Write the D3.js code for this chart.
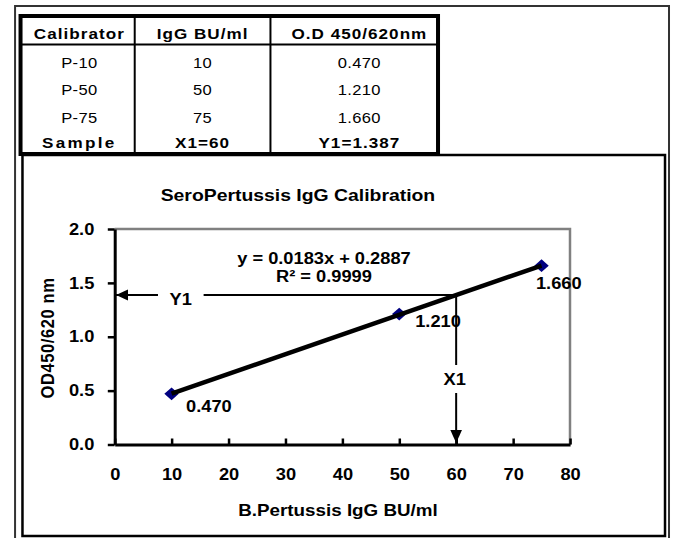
<!DOCTYPE html>
<html>
<head>
<meta charset="utf-8">
<script src="https://cdn.jsdelivr.net/npm/d3@7"></script>
<style>
  html, body { margin: 0; padding: 0; background: #fff; }
  svg { display: block; font-family: "Liberation Sans", Arial, sans-serif; }
  svg line, svg path, svg rect { vector-effect: non-scaling-stroke; }
</style>
</head>
<body>
<svg id="chart"></svg>
<script>
// calibration data
const tableHeaders = ['Calibrator', 'IgG BU/ml', 'O.D 450/620nm'];
const calibrators = ['P-10', 'P-50', 'P-75'];
const concentrations = [10, 50, 75];
const odValues = [0.470, 1.210, 1.660];
const sampleName = 'Sample';
const sampleX = 60;
const sampleY = 1.387;
const slope = 0.0183;
const intercept = 0.2887;
const rSquared = 0.9999;
const xTicks = [0, 10, 20, 30, 40, 50, 60, 70, 80];
const yTicks = [0, 0.5, 1.0, 1.5, 2.0];

// label nudges (viewBox units), one per point
const labelOffsets = [[12.7, 18], [14, 13], [-4.9, 23]];

// the picture is drawn in a narrower box and stretched to 673px wide
const W = 590, H = 538;
const svg = d3.select('#chart')
  .attr('width', 673)
  .attr('height', 538)
  .attr('viewBox', `0 0 ${W} ${H}`)
  .attr('preserveAspectRatio', 'none');

// outer frame
svg.append('rect')
  .attr('x', 13.2).attr('y', 6)
  .attr('width', 573.3).attr('height', 540)
  .attr('fill', 'none').attr('stroke', '#333').attr('stroke-width', 2);

// chart box
svg.append('rect')
  .attr('x', 19.7).attr('y', 155)
  .attr('width', 563.3).attr('height', 381)
  .attr('fill', '#fff').attr('stroke', '#000').attr('stroke-width', 2.5);

// table
const tbl = { left: 18, right: 384, top: 16, bottom: 154, head: 44.5 };
const colEdges = [tbl.left, 118.1, 237.1, tbl.right];
const colShift = [1.5, 0, 4.5];
const rowBase = [39.3, 67.7, 95, 122.7, 148.3];
const t = svg.append('g');
t.append('rect')
  .attr('x', tbl.left).attr('y', tbl.top)
  .attr('width', tbl.right - tbl.left).attr('height', tbl.bottom - tbl.top)
  .attr('fill', '#fff').attr('stroke', '#000').attr('stroke-width', 4);
t.append('line')
  .attr('x1', tbl.left).attr('x2', tbl.right)
  .attr('y1', tbl.head).attr('y2', tbl.head)
  .attr('stroke', '#000').attr('stroke-width', 2);
t.selectAll('.div').data(colEdges.slice(1, 3)).enter().append('line')
  .attr('x1', d => d).attr('x2', d => d)
  .attr('y1', tbl.top).attr('y2', tbl.bottom)
  .attr('stroke', '#000').attr('stroke-width', 2);

const colMid = i => (colEdges[i] + colEdges[i + 1]) / 2 + colShift[i];
const rows = [tableHeaders]
  .concat(calibrators.map((c, i) => [c, String(concentrations[i]), odValues[i].toFixed(3)]))
  .concat([[sampleName, `X1=${sampleX}`, `Y1=${sampleY.toFixed(3)}`]]);

rows.forEach((r, ri) => {
  const bold = ri === 0 || ri === rows.length - 1;
  r.forEach((txt, ci) => {
    t.append('text')
      .attr('x', colMid(ci)).attr('y', rowBase[ri])
      .attr('text-anchor', 'middle')
      .attr('font-size', bold ? 15 : 14.5)
      .attr('font-weight', bold ? 'bold' : 'normal')
      .attr('letter-spacing', bold ? (ri > 0 && ci === 0 ? 2 : 0.9) : 0.3)
      .text(txt);
  });
});

// chart
const x = d3.scaleLinear().domain([0, 80]).range([100.5, 499.7]);
const y = d3.scaleLinear().domain([0, 2]).range([444.5, 229]);

svg.append('text')
  .attr('x', 261.2).attr('y', 201)
  .attr('text-anchor', 'middle')
  .attr('font-size', 17).attr('font-weight', 'bold')
  .text('SeroPertussis IgG Calibration');

// plot border (gray top and right)
svg.append('path')
  .attr('d', `M${x(0)},${y(2)}H${x(80)}V${y(0)}`)
  .attr('fill', 'none').attr('stroke', '#808080').attr('stroke-width', 2.5);

// axes
const xAxis = svg.append('g')
  .attr('transform', `translate(0,${y(0)})`)
  .call(d3.axisBottom(x).tickValues(xTicks).tickFormat(d3.format('d'))
    .tickSizeInner(-6).tickSizeOuter(0).tickPadding(24));
const yAxis = svg.append('g')
  .attr('transform', `translate(${x(0)},0)`)
  .call(d3.axisLeft(y).tickValues(yTicks).tickFormat(d3.format('.1f'))
    .tickSizeInner(6).tickSizeOuter(0).tickPadding(11.8));

[xAxis, yAxis].forEach(a => {
  a.attr('font-family', null).attr('font-size', null);
  a.select('.domain').attr('stroke', '#000').attr('stroke-width', 3);
  a.selectAll('.tick line').attr('stroke', '#000').attr('stroke-width', 2.5);
  a.selectAll('.tick text').attr('fill', '#000')
    .attr('font-size', 16).attr('font-weight', 'bold');
});

svg.append('text')
  .attr('x', 296.3).attr('y', 516)
  .attr('text-anchor', 'middle')
  .attr('font-size', 16.5).attr('font-weight', 'bold')
  .text('B.Pertussis IgG BU/ml');

svg.append('text')
  .attr('transform', 'translate(47.3,338) rotate(-90)')
  .attr('text-anchor', 'middle')
  .attr('font-size', 16.5).attr('font-weight', 'bold')
  .attr('letter-spacing', 0.6)
  .text('OD450/620 nm');

// sample read-off lines
const ry = y(sampleY), rx = x(sampleX);
svg.append('path')
  .attr('d', `M${x(0)},${ry}H${rx}V${y(0)}`)
  .attr('fill', 'none').attr('stroke', '#000').attr('stroke-width', 2);
svg.append('path')
  .attr('d', `M${x(0) + 1.2},${ry}l10.5,-5.5v11z`)
  .attr('fill', '#000');
svg.append('path')
  .attr('d', `M${rx},${y(0) - 1.5}l-5.1,-13h10.2z`)
  .attr('fill', '#000');

// gaps for Y1 / X1
svg.append('rect')
  .attr('x', x(0) + 38).attr('y', ry - 4)
  .attr('width', 40).attr('height', 8).attr('fill', '#fff');
svg.append('text')
  .attr('x', x(0) + 58).attr('y', ry + 10)
  .attr('text-anchor', 'middle')
  .attr('font-size', 16).attr('font-weight', 'bold')
  .text('Y1');
svg.append('rect')
  .attr('x', rx - 4).attr('y', y(0) - 79.5)
  .attr('width', 8).attr('height', 28).attr('fill', '#fff');
svg.append('text')
  .attr('x', rx - 1.3).attr('y', y(0) - 59)
  .attr('text-anchor', 'middle')
  .attr('font-size', 16).attr('font-weight', 'bold')
  .text('X1');

// points
const pts = concentrations.map((c, i) => ({ c, od: odValues[i] }));
svg.selectAll('.pt').data(pts).enter().append('path')
  .attr('class', 'pt')
  .attr('d', d3.symbol(d3.symbolSquare, 80))
  .attr('transform', d => `translate(${x(d.c)},${y(d.od)}) rotate(45)`)
  .attr('fill', '#000080');

// linear trendline
const trend = d3.extent(concentrations).map(c => [c, slope * c + intercept]);
svg.append('path')
  .attr('d', d3.line().x(d => x(d[0])).y(d => y(d[1]))(trend))
  .attr('fill', 'none').attr('stroke', '#000').attr('stroke-width', 4.5);

svg.selectAll('.lbl').data(pts).enter().append('text')
  .attr('x', (d, i) => x(d.c) + labelOffsets[i][0])
  .attr('y', (d, i) => y(d.od) + labelOffsets[i][1])
  .attr('font-size', 16).attr('font-weight', 'bold')
  .text(d => d.od.toFixed(3));

svg.append('text')
  .attr('x', 284).attr('y', 264)
  .attr('text-anchor', 'middle')
  .attr('font-size', 16).attr('font-weight', 'bold')
  .text(`y = ${slope}x + ${intercept}`);
svg.append('text')
  .attr('x', 284).attr('y', 282)
  .attr('text-anchor', 'middle')
  .attr('font-size', 16).attr('font-weight', 'bold')
  .text(`R² = ${rSquared}`);
</script>
</body>
</html>
